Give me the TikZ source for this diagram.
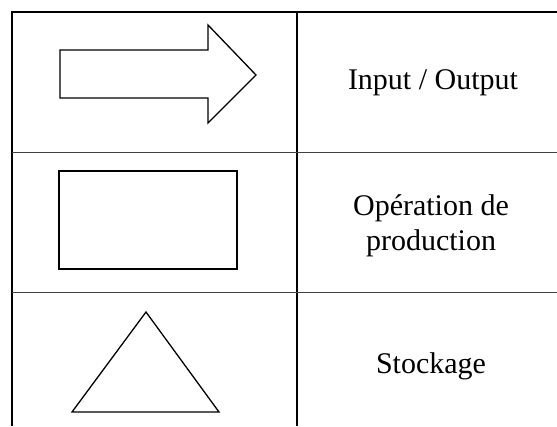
\documentclass[tikz,border=0pt]{standalone}
\usepackage{fontspec}
\setmainfont{Liberation Serif}
\usepackage{tikz}

\begin{document}
\begin{tikzpicture}[
    x=1pt, y=-1pt,
    rule/.style={line width=1.4pt, black},
    thinrule/.style={line width=1pt, black!75},
    symbol/.style={line width=1.3pt, line join=miter},
    label/.style={font=\fontsize{30}{35}\selectfont, align=center}
]
\useasboundingbox (0,0) rectangle (557,426);

% Table frame
\draw[rule] (557,12) -- (12,12) -- (12,426);
\draw[rule] (297,12) -- (297,426);
\draw[thinrule] (12,152) -- (557,152);
\draw[thinrule] (12,292) -- (557,292);

% Input / Output
\draw[symbol] (60,50) -- (208,50) -- (208,25) -- (256,75) -- (208,123) -- (208,98) -- (60,98) -- cycle;
\node[label] (io) at (433,83) {Input / Output};

% Operation de production
\draw[symbol] (59,171) rectangle (237,269);
\node[label] (prod) at (431,226) {Opération de\\production};

% Stockage
\draw[symbol] (146,312) -- (219,412) -- (72,412) -- cycle;
\node[label] (stock) at (431,366) {Stockage};

\end{tikzpicture}
\end{document}
